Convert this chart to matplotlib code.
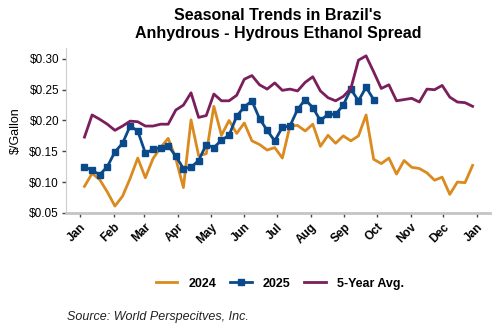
import matplotlib
matplotlib.use("Agg")
import matplotlib.pyplot as plt
import matplotlib.dates as mdates
import matplotlib.ticker as mticker
import pandas as pd

plt.rcParams['font.family'] = ['Liberation Sans', 'DejaVu Sans']

# weekly observation dates (common seasonal axis)
weeks = pd.date_range('2025-01-05', periods=52, freq='7D')

# spread, $/gallon
spread_2024 = [0.093, 0.114, 0.104, 0.084, 0.061, 0.077, 0.106, 0.139, 0.107, 0.138,
               0.156, 0.171, 0.138, 0.091, 0.201, 0.143, 0.146, 0.223, 0.176, 0.200,
               0.179, 0.196, 0.167, 0.161, 0.152, 0.156, 0.139, 0.191, 0.192, 0.183,
               0.194, 0.158, 0.176, 0.163, 0.175, 0.167, 0.175, 0.209, 0.137, 0.130,
               0.139, 0.113, 0.135, 0.124, 0.122, 0.115, 0.103, 0.108, 0.080, 0.100,
               0.099, 0.127]
spread_2025 = [0.125, 0.119, 0.112, 0.125, 0.149, 0.163, 0.191, 0.183, 0.147, 0.153,
               0.156, 0.159, 0.142, 0.122, 0.124, 0.135, 0.161, 0.156, 0.168, 0.176,
               0.207, 0.222, 0.232, 0.203, 0.184, 0.167, 0.189, 0.191, 0.218, 0.234,
               0.221, 0.200, 0.210, 0.210, 0.225, 0.251, 0.232, 0.254, 0.234]
spread_5yr = [0.173, 0.209, 0.202, 0.194, 0.184, 0.191, 0.199, 0.198, 0.191, 0.191,
              0.194, 0.194, 0.217, 0.225, 0.245, 0.205, 0.208, 0.243, 0.232, 0.232,
              0.241, 0.267, 0.273, 0.258, 0.251, 0.261, 0.249, 0.251, 0.248, 0.262,
              0.271, 0.248, 0.237, 0.232, 0.239, 0.252, 0.298, 0.305, 0.279, 0.252,
              0.258, 0.232, 0.234, 0.236, 0.230, 0.251, 0.250, 0.257, 0.238, 0.230,
              0.229, 0.223]

c_2024 = '#DA8A1E'
c_2025 = '#0A4A8A'
c_avg = '#7A1F5C'

fig = plt.figure(figsize=(5, 3.3), dpi=100)
ax = fig.add_axes([0.132, 0.355, 0.848, 0.5])

ax.plot(weeks, spread_2024, color=c_2024, lw=2.0, label='2024')
ax.plot(weeks[:len(spread_2025)], spread_2025, color=c_2025, lw=2.0,
        marker='s', markersize=4.5, label='2025')
ax.plot(weeks, spread_5yr, color=c_avg, lw=2.0, label='5-Year Avg.')

ax.set_xlim(pd.Timestamp('2024-12-19'), pd.Timestamp('2026-01-13'))
ax.set_ylim(0.05, 0.318)
ax.set_yticks([0.05, 0.10, 0.15, 0.20, 0.25, 0.30])
ax.yaxis.set_major_formatter(mticker.FuncFormatter(lambda v, p: f'${v:.2f}'))
ax.xaxis.set_major_locator(mdates.MonthLocator())
ax.xaxis.set_major_formatter(mdates.DateFormatter('%b'))

for lbl in ax.get_xticklabels():
    lbl.set_rotation(45)
    lbl.set_ha('right')
    lbl.set_rotation_mode('anchor')
    lbl.set_fontweight('bold')
    lbl.set_fontsize(8.5)
ax.tick_params(axis='y', labelsize=8.5, length=3, width=1, color='#444444', pad=2)
ax.tick_params(axis='x', length=3, width=1, color='#444444', pad=3)

ax.spines['top'].set_visible(False)
ax.spines['right'].set_visible(False)
ax.spines['left'].set_color('#cccccc')
ax.spines['bottom'].set_color('#c4c4c4')
ax.spines['bottom'].set_linewidth(2)

ax.set_ylabel('$/Gallon', fontsize=9, labelpad=5)

fig.text(0.556, 0.975, "Seasonal Trends in Brazil's\nAnhydrous - Hydrous Ethanol Spread",
         ha='center', va='top', fontsize=11.5, fontweight='bold', linespacing=1.2)

fig.legend(loc='center', bbox_to_anchor=(0.56, 0.14), ncol=3, frameon=False,
           prop={'weight': 'bold', 'size': 9}, handlelength=1.7, columnspacing=1.1,
           handletextpad=0.9)

fig.text(0.134, 0.03, 'Source: World Perspecitves, Inc.', fontsize=9,
         style='italic', color='#222222')

fig.savefig('out.png', dpi=100)
